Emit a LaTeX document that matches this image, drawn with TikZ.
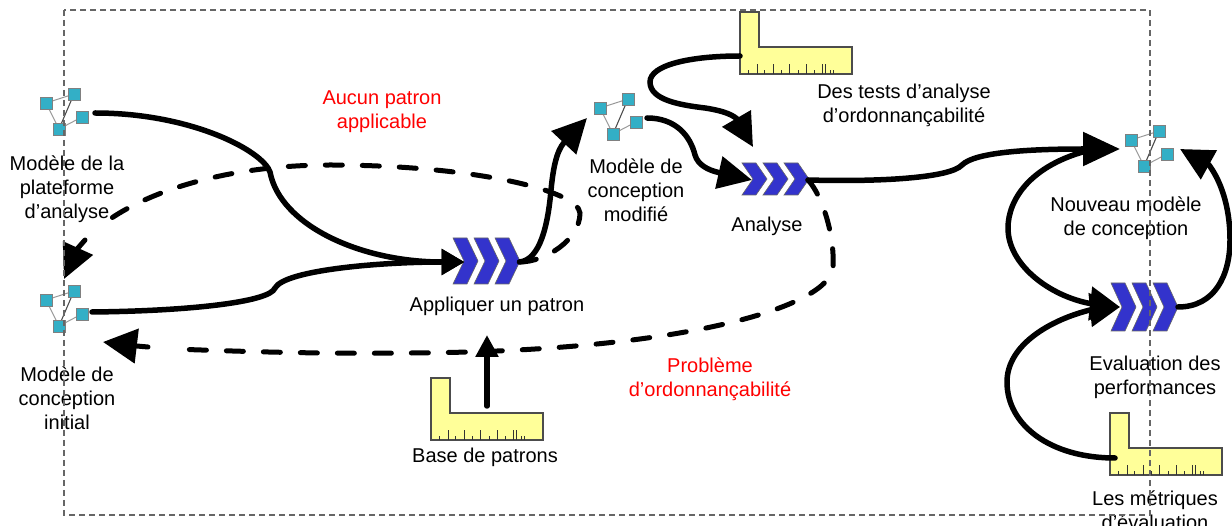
\documentclass[tikz,border=0pt]{standalone}
\usepackage{fontspec}
\setmainfont{Liberation Sans}
\usetikzlibrary{arrows.meta}
\definecolor{teal1}{HTML}{33AFC6}
\definecolor{chev}{HTML}{3333CC}
\definecolor{rul}{HTML}{FFFF99}
\tikzset{
  x=1pt,y=-1pt,
  anchorbox/.style={minimum width=#1,inner sep=0pt,outer sep=0pt},
  lbl/.style={align=center,inner sep=0pt,font=\fontsize{20}{24}\selectfont},
  redlbl/.style={lbl,text=red},
  flow/.style={line width=5.5pt,line cap=round,black},
  stub/.style={line width=5pt,line cap=round,black},
  dflow/.style={line width=5pt,line cap=round,black,dash pattern=on 17pt off 20pt},
  tip/.style 2 args={-{Triangle[length=#1,width=#2]}},
  pics/netmodel/.style={code={
    \draw[gray!80,line width=1pt] (-14,-7)--(14,-16) (-14,-7)--(-1,19) (-1,19)--(22,7);
    \draw[black!70,line width=1.1pt] (14,-16)--(-1,19);
    \foreach \p in {(-14,-7),(14,-16),(22,7),(-1,19)}
      \fill[teal1,draw=gray,line width=.8pt] \p ++(-6,-6) rectangle ++(12,12);
  }},
  pics/chevrons/.style={code={
    \foreach \d in {0,21,42}
      \filldraw[fill=chev,draw=black!60,line width=.6pt,xshift=\d pt]
        (0,-#1)--(14,-#1)--(25,0)--(14,#1)--(0,#1)--(11,0)--cycle;
  }},
  pics/ruler/.style={code={
    \filldraw[fill=rul,draw=black!70,line width=1.1pt] (0,0)--(19,0)--(19,35)--(112,35)--(112,62)--(0,62)--cycle;
    \foreach \t/\h in {8/4,17/10,24/4,33/10,41/4,49/10,58/4,66/10,74/4,82/10,85/10,90/4,93/4}
      \draw[black!80,line width=.9pt] (\t,62)--(\t,62-\h);
  }},
}
\begin{document}
\begin{tikzpicture}
\useasboundingbox (0,0) rectangle (1232,526);
% icons
\pic at (60,110) {netmodel};
\pic at (60,307) {netmodel};
\pic at (614,115) {netmodel};
\pic at (1145,147) {netmodel};
\pic at (453,261) {chevrons=23};
\pic at (742,179) {chevrons=16};
\pic at (1111,307) {chevrons=24};
\pic at (740,12) {ruler};
\pic at (431,378) {ruler};
\pic at (1110,413) {ruler};
% anchor nodes
\node[anchorbox=70pt,minimum height=50pt] (mplat) at (60,113) {};
\node[anchorbox=56pt,minimum height=66pt] (minit) at (64,312) {};
\node[anchorbox=70pt,minimum height=50pt] (mmod) at (612,118) {};
\node[anchorbox=60pt,minimum height=50pt] (mnew) at (1150,149) {};
\node[anchorbox=55pt,minimum height=46pt] (capp) at (492,262) {};
\node[anchorbox=56pt,minimum height=32pt] (cana) at (780,180) {};
\node[anchorbox=58pt,minimum height=46pt] (ceva) at (1149,307) {};
\node[anchorbox=112pt,minimum height=36pt] (rtest) at (796,56) {};
\node[anchorbox=112pt,minimum height=34pt] (rbase) at (487,423) {};
\node[anchorbox=108pt,minimum height=6pt] (rmet) at (1169,458) {};
\coordinate (minitin) at (103,342);
\coordinate (mmodin) at (587,118);
\coordinate (canatop) at (753,147);
\coordinate (rmetout) at (1115,458);
% solid connectors
\draw[flow,tip={23pt}{25pt}] (mplat.east) .. controls (190,113) and (262,150) .. (270,172)
  .. controls (280,225) and (360,262) .. (442,262) -- (capp.west);
\draw[flow,tip={23pt}{25pt}] (minit.east) .. controls (190,311) and (270,302) .. (275,288)
  .. controls (285,270) and (380,262) .. (442,262) -- (capp.west);
\draw[flow,tip={34pt}{33pt}] (capp.east) .. controls (540,260) and (548,225) .. (551,190)
  .. controls (553,170) and (556,152) .. (564,142.5) -- (mmodin);
\draw[flow,tip={34pt}{32pt}] (mmod.east) .. controls (675,118) and (690,135) .. (695,155)
  .. controls (698,165) and (708,170) .. (718.5,172.5) -- (cana.west);
\draw[flow,tip={33pt}{32pt}] (rtest.west) .. controls (690,56) and (650,65) .. (650,82)
  .. controls (650,100) and (680,105) .. (705,108) .. controls (718,110) and (730,113) .. (736.5,118.5) -- (canatop);
\draw[flow,tip={37pt}{33pt}] (cana.east) .. controls (880,182) and (950,178) .. (962,165)
  .. controls (975,152) and (1030,149) .. (1083,149) -- (mnew.west);
\draw[flow,tip={30pt}{33pt}] (1090,150) .. controls (1030,165) and (1008,200) .. (1008,228)
  .. controls (1008,265) and (1050,296) .. (1090,303.5) -- (ceva.west);
\draw[flow,tip={30pt}{33pt}] (rmetout) .. controls (1050,458) and (1007,425) .. (1007,382)
  .. controls (1007,345) and (1050,320) .. (1090,310) -- (ceva.west);
\draw[flow,tip={33pt}{32pt}] (ceva.east) .. controls (1215,307) and (1230,275) .. (1230,240)
  .. controls (1230,205) and (1220,180) .. (1209,165) -- (mnew.east);
\draw[flow,tip={22pt}{22pt}] (rbase.north) -- (487,335);
% dashed connectors
\draw[dflow] (cana.east) .. controls (822,195) and (835,235) .. (833,268)
  .. controls (828,305) and (700,345) .. (470,352)
  .. controls (340,355) and (260,352) .. (172,349);
\draw[stub,tip={34pt}{34pt}] (148,347) -- (136.5,346) -- (minitin);
\draw[dflow] (capp.east) .. controls (545,262) and (580,240) .. (580,213)
  .. controls (578,190) and (470,165) .. (330,165)
  .. controls (220,165) and (140,195) .. (102,225);
\draw[stub,tip={34pt}{32pt}] (85,240) -- (78,248) -- (minit.north);
% labels
\node[lbl] (l1) at (67,189) {Modèle de la\\plateforme\\d’analyse};
\node[lbl] (l2) at (67,398) {Modèle de\\conception\\initial};
\node[redlbl] (l3) at (382,111.5) {Aucun patron\\applicable};
\node[lbl] (l4) at (497,306) {Appliquer un patron};
\node[lbl] (l5) at (636,190.5) {Modèle de\\conception\\modifié};
\node[lbl] (l6) at (767,226.5) {Analyse};
\node[lbl] (l7) at (904,105.5) {Des tests d’analyse\\d’ordonnançabilité};
\node[lbl] (l8) at (1126,218) {Nouveau modèle\\de conception};
\node[lbl] (l9) at (1155,377) {Evaluation des\\performances};
\node[lbl] (l10) at (1155,510) {Les métriques\\d’évaluation};
\node[redlbl] (l11) at (710,379) {Problème\\d’ordonnançabilité};
\node[lbl] (l12) at (485,457) {Base de patrons};
% frame
\draw[black!60,line width=1.3pt,dash pattern=on 6pt off 4pt] (64,10) rectangle (1150,515);
\end{tikzpicture}
\end{document}
